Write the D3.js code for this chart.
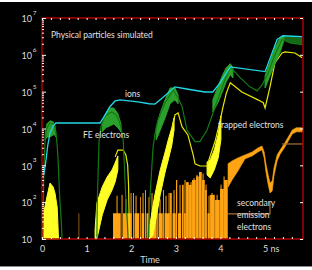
<!DOCTYPE html>
<html>
<head>
<meta charset="utf-8">
<script src="https://cdn.jsdelivr.net/npm/d3@7"></script>
<style>
body { margin: 0; background: #fff; }
text { font-family: Lato, "Open Sans", sans-serif; }
</style>
</head>
<body>
<script>
// ---- data (time in ns, particle counts) ----

// ions (cyan)
var ionT = [0.04, 0.09, 0.13, 0.18, 0.25, 0.31, 1.30, 1.39, 1.52, 1.64, 1.75, 2.15, 2.40, 2.53, 2.69, 2.98, 3.21, 3.65, 3.83, 3.99, 4.22, 5.00, 5.27, 5.40, 5.83];
var ionN = [550, 1400, 3550, 7600, 11700, 14100, 14100, 21000, 39000, 56000, 60000, 53000, 47000, 46000, 66000, 135000, 120000, 98000, 98000, 174000, 470000, 350000, 2.6e6, 3.3e6, 3.1e6];

// FE electrons, dark green outline (null = gap)
var feT = [0.02, 0.03, 0.045, 0.07, 0.11, 0.18, 0.25, 0.29, 0.31, 0.34, 0.36, 0.38, 0.40, 0.43, 0.45, 0.8,
  1.23, 1.24, 1.26, 1.28, 1.32, 1.39, 1.48, 1.57, 1.66, 1.73, 1.77, 1.82, 1.84, 1.86, 1.88, 1.91, 1.93, 2.1,
  2.38, 2.42, 2.49, 2.53, 2.60, 2.76, 2.94, 3.05, 3.14, 3.25, 3.43, 3.54, 3.70, 3.88, 4.10, 4.22, 4.44, 4.66, 4.82, 4.93, 5.07, 5.22, 5.38, 5.56, 5.83];
var feN = [10, 115, 1000, 4900, 10500, 14100, 13300, 10500, 7600, 3550, 1400, 400, 115, 33, 10, null,
  10, 115, 750, 4900, 11000, 19500, 25000, 28000, 23500, 16000, 10500, 4900, 1400, 400, 115, 33, 10, null,
  10, 138, 3160, 6700, 17000, 50000, 112000, 68000, 39000, 9100, 4400, 4400, 9100, 39000, 209000, 470000, 240000, 135000, 105000, 151000, 324000, 1e6, 2.6e6, 2.1e6, 1.9e6];

// FE electrons, noisy bright green spread (low / high)
var feBandT  = [0.07, 0.11, 0.18, 0.25, 0.29, 0.31, 0.8, 1.35, 1.43, 1.52, 1.61, 1.70, 1.77, 2.1, 2.56, 2.65, 2.76, 2.87, 2.98, 3.05, 3.4, 3.83, 3.95, 4.04, 4.13, 4.22, 4.28, 4.6, 5.00, 5.11, 5.22, 5.34, 5.42];
var feBandLo = [4900, 5900, 5900, 6700, 6700, 5900, null, 8100, 10500, 11700, 13300, 10500, 8100, null, 4900, 9100, 19500, 47000, 60000, 47000, null, 28000, 52000, 98000, 186000, 290000, 237000, null, 126000, 270000, 575000, 1.2e6, 2.4e6];
var feBandHi = [6700, 13300, 16200, 15200, 11700, 8100, null, 13300, 25000, 36000, 36000, 25000, 13300, null, 10500, 26500, 60000, 126000, 126000, 81000, null, 60000, 145000, 270000, 447000, 575000, 447000, null, 270000, 650000, 1.55e6, 2.9e6, 3.2e6];

// FE electrons, darker spread at the end
var feTailT  = [5.38, 5.56, 5.83];
var feTailLo = [2.6e6, 2.1e6, 1.9e6];
var feTailHi = [3.2e6, 3.1e6, 2.9e6];

// trapped electrons, thin yellow line
var trT = [1.64, 1.70, 1.82, 1.88, 1.92, 1.94, 1.95, 1.96, 2.5,
  2.91, 2.98, 3.05, 3.14, 3.27, 3.39, 3.43, 3.54, 3.70, 3.74, 3.88, 3.99, 4.06, 4.13, 4.22, 4.48, 4.84, 4.96, 5.00, 5.11, 5.22, 5.38, 5.45, 5.67, 5.83];
var trN = [1700, 2600, 2600, 1900, 1020, 295, 61, 10, null,
  9100, 23500, 26500, 11000, 6700, 1900, 1100, 960, 960, 1400, 4500, 16000, 40000, 90000, 174000, 98000, 60000, 50000, 36000, 135000, 600000, 1.12e6, 1.2e6, 1.12e6, 830000];

// trapped electrons, noisy bright yellow spread
var trBandT  = [0.0, 0.02, 0.11, 0.18, 0.25, 0.29, 0.34, 0.36, 0.37, 0.8, 1.19, 1.23, 1.35, 1.46, 1.57, 1.64, 1.70, 2.1, 2.42, 2.49, 2.53, 2.65, 2.76, 2.83, 2.91, 2.96, 3.3, 3.70, 3.77, 3.86, 3.95, 4.01];
var trBandLo = [10, 10, 10, 10, 10, 10, 10, 10, 10, null, 10, 10, 45, 115, 214, 355, 750, null, 10, 13, 24, 158, 660, 1400, 3550, 9100, null, 550, 455, 750, 1600, 5000];
var trBandHi = [10, 40, 138, 330, 260, 178, 74, 21, 10, null, 18, 95, 260, 480, 750, 1170, 1800, null, 24, 84, 158, 750, 2300, 4900, 10500, 19500, null, 1230, 1400, 2600, 7000, 22000];

// secondary emission electrons, bar runs: start, end, count
var seT0 = [0.818, 1.592, 1.783, 1.816, 2.040, 2.074, 2.197, 2.231, 2.309, 2.343, 2.444, 2.578, 2.612, 2.713, 2.747, 2.870, 2.926, 3.004, 3.049, 3.139, 3.184, 3.229, 3.296, 3.363, 3.453, 3.520, 3.587, 3.655, 3.711, 3.767, 3.879, 3.991, 4.081];
var seT1 = [0.841, 1.771, 1.812, 2.018, 2.067, 2.186, 2.220, 2.298, 2.336, 2.399, 2.578, 2.601, 2.713, 2.740, 2.870, 2.915, 3.004, 3.038, 3.128, 3.173, 3.229, 3.296, 3.363, 3.453, 3.520, 3.587, 3.655, 3.700, 3.767, 3.879, 3.991, 4.081, 4.170];
var seN  = [50, 50, 158, 50, 178, 50, 138, 50, 214, 50, 50, 138, 50, 214, 50, 178, 50, 400, 50, 295, 50, 350, 295, 400, 500, 660, 400, 214, 50, 158, 115, 230, 400];

// secondary emission electrons, single spikes
var seSpikeT = [1.682, 1.883, 1.996, 2.108, 2.265, 2.399, 2.466, 2.646, 2.780, 2.848, 2.960, 3.094, 3.161, 3.206, 3.274, 3.341, 3.408, 3.475, 3.543, 3.610, 3.677, 3.744, 3.812, 3.924, 4.013, 4.081];
var seSpikeN = [150, 120, 178, 150, 178, 138, 178, 120, 150, 178, 214, 295, 295, 400, 300, 350, 450, 550, 660, 600, 300, 150, 178, 158, 300, 500];

// secondary emission electrons, noisy line after 4.17 ns
var seBandT  = [4.17, 4.26, 4.39, 4.55, 4.71, 4.84, 4.93, 4.98, 5.02, 5.07, 5.11, 5.16, 5.20, 5.27, 5.34, 5.43, 5.52, 5.61, 5.70, 5.85];
var seBandLo = [259, 400, 700, 1500, 1800, 2300, 2630, 1590, 660, 295, 178, 202, 517, 1320, 2040, 2950, 4600, 7100, 8100, 8100];
var seBandHi = [1100, 1320, 1590, 1920, 2300, 2950, 3360, 2300, 1090, 548, 333, 375, 850, 1920, 2630, 3830, 5900, 9100, 10500, 10500];

// brown guide lines
var guideAT = [4.17, 5.11, 5.11];
var guideAN = [48, 48, 100];
var guideBT = [5.38, 5.85];
var guideBN = [3800, 3800];

var xMajor = [0, 1, 2, 3, 4, 5];
var yExp = [1, 2, 3, 4, 5, 6, 7];

// ---- drawing ----
var W = 312, H = 270;
var pLeft = 42, pRight = 303, pTop = 18, pBottom = 239;

var svg = d3.select("body").append("svg")
    .attr("width", W)
    .attr("height", H);

svg.append("rect").attr("x", 0).attr("y", 2).attr("width", W).attr("height", 264).attr("fill", "#000");
svg.append("rect").attr("x", 0).attr("y", 266).attr("width", W).attr("height", 1).attr("fill", "#8a8a8a");

var x = d3.scaleLinear().domain([0, 5.85]).range([pLeft, pRight]);
var y = d3.scaleLog().domain([10, 1e7]).range([pBottom, pTop]);

function pts(ts, ns) { return ts.map(function(t, i) { return [t, ns[i]]; }); }
function band(ts, lo, hi) { return ts.map(function(t, i) { return [t, lo[i], hi[i]]; }); }

var line = d3.line()
    .defined(function(d) { return d[1] != null; })
    .x(function(d) { return x(d[0]); })
    .y(function(d) { return y(d[1]); });

var area = d3.area()
    .defined(function(d) { return d[1] != null; })
    .x(function(d) { return x(d[0]); })
    .y0(function(d) { return y(d[1]); })
    .y1(function(d) { return y(d[2]); });

var plot = svg.append("g");
var orange = "#ffa514";

// secondary electrons bars
plot.selectAll(".seBar").data(d3.range(seN.length)).enter().append("rect")
    .attr("class", "seBar")
    .attr("x", function(i) { return x(seT0[i]); })
    .attr("width", function(i) { return Math.max(0.8, x(seT1[i]) - x(seT0[i]) - 0.3); })
    .attr("y", function(i) { return y(seN[i]); })
    .attr("height", function(i) { return pBottom - y(seN[i]); })
    .attr("fill", function(i) { return i === 0 ? "#b0701e" : orange; });

plot.selectAll(".seSpike").data(d3.range(seSpikeN.length)).enter().append("rect")
    .attr("class", "seSpike")
    .attr("x", function(i) { return x(seSpikeT[i]) - 0.5; })
    .attr("width", 1)
    .attr("y", function(i) { return y(seSpikeN[i]); })
    .attr("height", function(i) { return pBottom - y(seSpikeN[i]); })
    .attr("fill", orange);

plot.append("path").datum(band(seBandT, seBandLo, seBandHi))
    .attr("d", area).attr("fill", orange).attr("stroke", orange).attr("stroke-width", 0.6);

plot.append("path").datum(pts(guideAT, guideAN))
    .attr("d", line).attr("fill", "none").attr("stroke", "#a86e38").attr("stroke-width", 1.2);
plot.append("path").datum(pts(guideBT, guideBN))
    .attr("d", line).attr("fill", "none").attr("stroke", "#a86e38").attr("stroke-width", 1.2);

// trapped electrons
plot.append("path").datum(band(trBandT, trBandLo, trBandHi))
    .attr("d", area).attr("fill", "#ffff26").attr("stroke", "#ffff26").attr("stroke-width", 1);
plot.append("path").datum(pts(trT, trN))
    .attr("d", line).attr("fill", "none").attr("stroke", "#e8e800").attr("stroke-width", 1.2);

// FE electrons
plot.append("path").datum(band(feTailT, feTailLo, feTailHi))
    .attr("d", area).attr("fill", "#166816").attr("stroke", "none");
plot.append("path").datum(band(feBandT, feBandLo, feBandHi))
    .attr("d", area).attr("fill", "#2ca02c").attr("stroke", "#2ca02c").attr("stroke-width", 1);
plot.append("path").datum(pts(feT, feN))
    .attr("d", line).attr("fill", "none").attr("stroke", "#137a13").attr("stroke-width", 1.2);

// ions
plot.append("path").datum(pts(ionT, ionN))
    .attr("d", line).attr("fill", "none").attr("stroke", "#22d6e6").attr("stroke-width", 1.3);

// ---- frame and ticks ----
var red = "#b00000";
svg.append("rect")
    .attr("x", pLeft).attr("y", pTop)
    .attr("width", pRight - pLeft).attr("height", pBottom - pTop)
    .attr("fill", "none").attr("stroke", red).attr("stroke-width", 1.5);

var minorY = [];
for (var k = 1; k < 7; k++) for (var m = 2; m < 10; m++) minorY.push(m * Math.pow(10, k));
var majorY = yExp.map(function(e) { return Math.pow(10, e); });
var minorX = d3.range(0, 29).map(function(i) { return i * 0.2; });

function ticks(g) { g.select(".domain").remove(); g.selectAll("line").attr("stroke", "#fff").attr("stroke-width", 1); }

svg.append("g").attr("transform", "translate(" + pLeft + ",0)")
    .call(d3.axisLeft(y).tickValues(minorY).tickSize(-2).tickFormat("")).call(ticks);
svg.append("g").attr("transform", "translate(" + pLeft + ",0)")
    .call(d3.axisLeft(y).tickValues(majorY).tickSize(-4).tickFormat("")).call(ticks);
svg.append("g").attr("transform", "translate(" + pRight + ",0)")
    .call(d3.axisRight(y).tickValues(majorY).tickSize(-3).tickFormat("")).call(ticks);
svg.append("g").attr("transform", "translate(0," + pTop + ")")
    .call(d3.axisTop(x).tickValues(minorX).tickSize(-2).tickFormat("")).call(ticks);
svg.append("g").attr("transform", "translate(0," + pBottom + ")")
    .call(d3.axisBottom(x).tickValues(minorX).tickSize(-2).tickFormat("")).call(ticks);

// x tick labels
var xl = svg.append("g").attr("transform", "translate(0," + pBottom + ")")
    .call(d3.axisBottom(x).tickValues(xMajor).tickSize(0).tickPadding(7).tickFormat(d3.format("d")));
xl.select(".domain").remove();
xl.selectAll("text").attr("fill", "#dcdcdc").style("font-size", "9px")
    .style("font-family", "Lato, sans-serif");
xl.selectAll(".tick").filter(function(d) { return d === 5; }).select("text")
    .attr("text-anchor", "start").attr("x", -2.5).text("5 ns");

// y tick labels 10^n
var yl = svg.append("g");
yExp.forEach(function(e) {
    var yy = y(Math.pow(10, e));
    yl.append("text").attr("x", 32).attr("y", yy + 4.3)
        .attr("text-anchor", "end").attr("fill", "#dcdcdc").style("font-size", "9px").text("10");
    if (e > 1) {
        yl.append("text").attr("x", 32.8).attr("y", yy - 3)
            .attr("fill", "#dcdcdc").style("font-size", "6.5px").text(e);
    }
});

svg.append("text").attr("x", 150).attr("y", 263).attr("text-anchor", "middle")
    .attr("fill", "#dcdcdc").style("font-size", "9px").text("Time");

// annotations
var notes = [
    ["Physical particles simulated", 51, 38],
    ["ions", 125, 97],
    ["FE electrons", 83, 138],
    ["trapped electrons", 218, 128],
    ["secondary", 237, 205.5],
    ["emission", 237, 218],
    ["electrons", 237, 230]
];
svg.selectAll(".note").data(notes).enter().append("text")
    .attr("class", "note")
    .attr("x", function(d) { return d[1]; })
    .attr("y", function(d) { return d[2]; })
    .attr("fill", "#e0e0e0")
    .style("font-size", "8.5px")
    .text(function(d) { return d[0]; });
</script>
</body>
</html>
